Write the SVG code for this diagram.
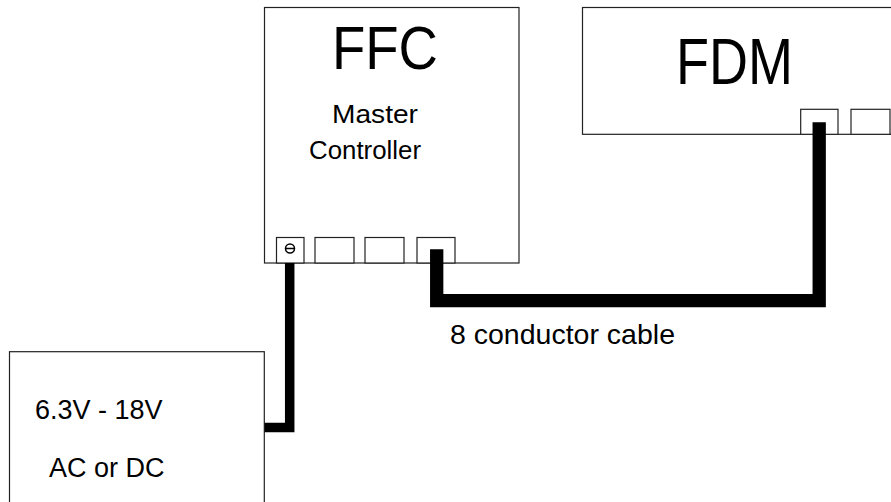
<svg xmlns="http://www.w3.org/2000/svg" width="891" height="502" viewBox="0 0 891 502">
<style>
.box{fill:#fff;stroke:#222;stroke-width:1.2}
.port{fill:#fff;stroke:#222;stroke-width:1.2}
.cable{fill:none;stroke:#000;stroke-linejoin:miter;stroke-linecap:butt}
text{font-family:"Liberation Sans",Arial,sans-serif;fill:#000}
</style>
<rect width="891" height="502" fill="#fff"/>
<g id="ffc">
<rect class="box" x="264.5" y="7.5" width="254.5" height="255.5"/>
<text x="332" y="69" font-size="62" textLength="106" lengthAdjust="spacingAndGlyphs">FFC</text>
<text x="332" y="123" font-size="26" textLength="86" lengthAdjust="spacingAndGlyphs">Master</text>
<text x="309" y="159" font-size="26" textLength="112" lengthAdjust="spacingAndGlyphs">Controller</text>
<rect class="port" x="276.5" y="237.5" width="27.5" height="25.5"/>
<circle cx="290" cy="248.5" r="4.5" fill="none" stroke="#000" stroke-width="1.5"/>
<line x1="285.5" y1="248.5" x2="294.5" y2="248.5" stroke="#000" stroke-width="1.5"/>
<rect class="port" x="315" y="237.5" width="39" height="25.5"/>
<rect class="port" x="365" y="237.5" width="39" height="25.5"/>
<rect class="port" x="417" y="237.5" width="38" height="25.5"/>
</g>
<g id="fdm">
<rect class="box" x="582.5" y="7.5" width="320" height="126.8"/>
<text x="676" y="84" font-size="64" textLength="117" lengthAdjust="spacingAndGlyphs">FDM</text>
<rect class="port" x="800.7" y="109.3" width="37.3" height="25"/>
<rect class="port" x="851" y="109.3" width="39" height="25"/>
</g>
<g id="power">
<rect class="box" x="9.5" y="351.7" width="254.8" height="170"/>
<text x="35" y="419" font-size="27">6.3V - 18V</text>
<text x="49" y="477" font-size="27">AC or DC</text>
</g>
<g id="connectors">
<path class="cable" d="M436.7 249.3 V300.7 H819.2 V122.3" stroke-width="13.3"/>
<path class="cable" d="M264.5 427.5 H289.7 V263" stroke-width="9.5"/>
<text x="450" y="344" font-size="28.5">8 conductor cable</text>
</g>
</svg>
